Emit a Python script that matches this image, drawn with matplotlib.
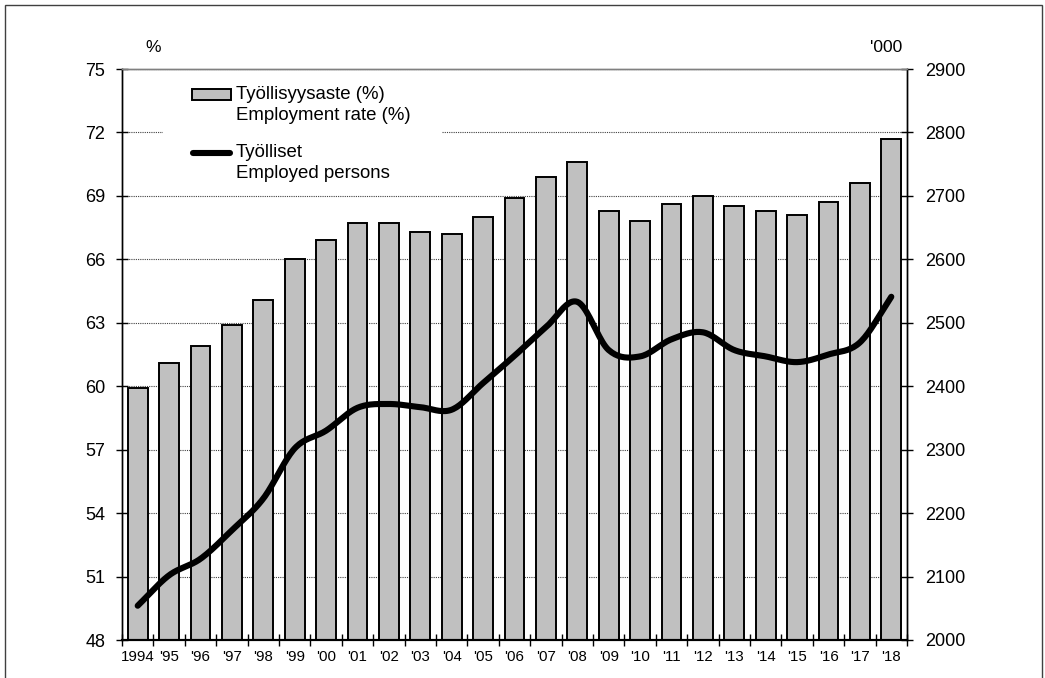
import numpy as np
import matplotlib
matplotlib.use("Agg")
from matplotlib import pyplot as plt
from matplotlib.patches import Rectangle
from matplotlib.lines import Line2D

plt.rcParams['font.family'] = ['Liberation Sans', 'DejaVu Sans']

years = ['1994', "'95", "'96", "'97", "'98", "'99", "'00", "'01", "'02", "'03",
         "'04", "'05", "'06", "'07", "'08", "'09", "'10", "'11", "'12", "'13",
         "'14", "'15", "'16", "'17", "'18"]

# employment rate (%), left axis
employment_rate = [59.9, 61.1, 61.9, 62.9, 64.1, 66.0, 66.9, 67.7, 67.7, 67.3,
                   67.2, 68.0, 68.9, 69.9, 70.6, 68.3, 67.8, 68.6, 69.0, 68.5,
                   68.3, 68.1, 68.7, 69.6, 71.7]

# employed persons ('000), right axis
employed = [2054, 2102, 2128, 2173, 2223, 2302, 2330, 2366, 2372, 2367,
            2363, 2405, 2448, 2493, 2533, 2457, 2447, 2474, 2485, 2457,
            2447, 2438, 2450, 2469, 2541]

left_ticks = [48, 51, 54, 57, 60, 63, 66, 69, 72, 75]
right_ticks = [2000, 2100, 2200, 2300, 2400, 2500, 2600, 2700, 2800, 2900]


def smooth(x, y, n=20):
    # Excel style smoothed line (Catmull-Rom through the points)
    x = np.asarray(x, float)
    y = np.asarray(y, float)
    px = np.concatenate([[2 * x[0] - x[1]], x, [2 * x[-1] - x[-2]]])
    py = np.concatenate([[2 * y[0] - y[1]], y, [2 * y[-1] - y[-2]]])
    xs, ys = [], []
    t = np.linspace(0, 1, n, endpoint=False)
    for i in range(1, len(px) - 2):
        for p, out in ((px, xs), (py, ys)):
            p0, p1, p2, p3 = p[i - 1], p[i], p[i + 1], p[i + 2]
            out.extend(0.5 * ((2 * p1) + (-p0 + p2) * t
                              + (2 * p0 - 5 * p1 + 4 * p2 - p3) * t ** 2
                              + (-p0 + 3 * p1 - 3 * p2 + p3) * t ** 3))
    xs.append(x[-1])
    ys.append(y[-1])
    return np.array(xs), np.array(ys)


W, H = 1045, 678
fig = plt.figure(figsize=(W / 100, H / 100), dpi=100)

def fx(px):
    return px / W

def fy(py):
    return 1 - py / H

ax = fig.add_axes([fx(122), fy(640), fx(907) - fx(122), fy(69) - fy(640)])
ax2 = ax.twinx()

x = np.arange(len(years))
ax.bar(x, np.array(employment_rate) - 48, bottom=48, width=0.63,
       color='#c0c0c0', edgecolor='black', linewidth=1.4, zorder=2)

ax.set_xlim(-0.5, len(years) - 0.5)
ax.set_ylim(48, 75)
ax.set_yticks(left_ticks)
ax.yaxis.grid(True, linestyle=(0, (1, 1)), color='#404040', linewidth=0.8, zorder=0)
ax.set_axisbelow(True)

ax.set_xticks(np.arange(-0.5, len(years), 1.0))
ax.set_xticklabels([])
ax.set_xticks(x, minor=True)
ax.set_xticklabels(years, minor=True)
ax.tick_params(axis='x', which='major', direction='inout', length=8, width=1)
ax.tick_params(axis='x', which='minor', length=0, pad=7, labelsize=10.8)
ax.tick_params(axis='y', direction='inout', length=8, width=1, labelsize=13, pad=8)

sx, sy = smooth(x, employed)
ax2.plot(sx, sy, color='black', linewidth=4.4, solid_capstyle='round', zorder=3)
ax2.set_ylim(2000, 2900)
ax2.set_yticks(right_ticks)
ax2.tick_params(axis='y', direction='inout', length=8, width=1, labelsize=13, pad=9)

for a in (ax, ax2):
    a.spines['top'].set_color('#808080')
    a.spines['top'].set_linewidth(1)
    a.spines['left'].set_linewidth(1)
    a.spines['right'].set_linewidth(1)
    a.spines['bottom'].set_linewidth(1.5)

# legend drawn by hand so the key sits next to the first line of each label
ax2.add_patch(Rectangle((fx(163), fy(187)), fx(442) - fx(163), fy(73) - fy(187),
                        transform=fig.transFigure, facecolor='white',
                        edgecolor='none', zorder=4))
ax2.add_patch(Rectangle((fx(192), fy(100)), fx(231) - fx(192), fy(89) - fy(100),
                        transform=fig.transFigure, facecolor='#c0c0c0',
                        edgecolor='black', linewidth=1.4, zorder=5))
ax2.add_line(Line2D([fx(193), fx(230)], [fy(153), fy(153)], transform=fig.transFigure,
                    color='black', linewidth=4.4, solid_capstyle='round', zorder=5))
fig.text(fx(236), fy(86), 'Työllisyysaste (%)\nEmployment rate (%)', fontsize=13.4,
         va='top', ha='left', linespacing=1.3)
fig.text(fx(236), fy(144), 'Työlliset\nEmployed persons', fontsize=13.4,
         va='top', ha='left', linespacing=1.3)

fig.text(fx(153), fy(47), '%', fontsize=12.5, ha='center', va='center')
fig.text(fx(886), fy(47), "'000", fontsize=12.5, ha='center', va='center')

# frame round the whole chart
fig.patches.append(Rectangle((fx(5), -0.05), fx(1042) - fx(5), fy(5) + 0.05,
                             transform=fig.transFigure, fill=False,
                             edgecolor='#404040', linewidth=1))

fig.savefig('out.png', dpi=100)
